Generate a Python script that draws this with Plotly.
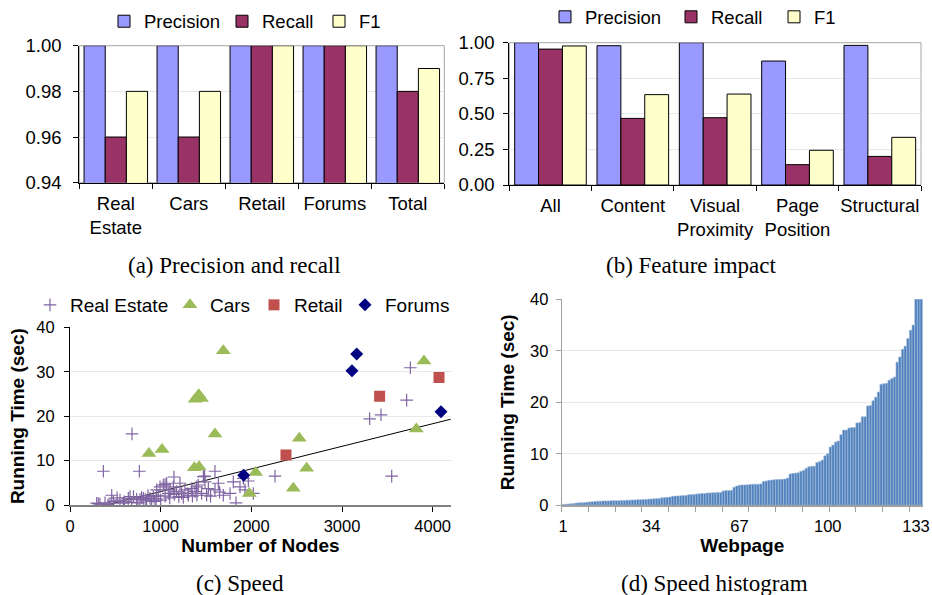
import plotly.graph_objects as go

W, H = 932, 595

# ---------------- Panel (a): Precision and recall ----------------
a_categories = ["Real<br>Estate", "Cars", "Retail", "Forums", "Total"]
a_precision = [1.00, 1.00, 1.00, 1.00, 1.00]
a_recall = [0.96, 0.96, 1.00, 1.00, 0.98]
a_f1 = [0.98, 0.98, 1.00, 1.00, 0.99]

# ---------------- Panel (b): Feature impact ----------------
b_categories = ["All", "Content", "Visual<br>Proximity", "Page<br>Position", "Structural"]
b_precision = [1.00, 0.979, 1.00, 0.871, 0.981]
b_recall = [0.955, 0.468, 0.473, 0.143, 0.201]
b_f1 = [0.977, 0.635, 0.639, 0.244, 0.335]

# ---------------- Panel (c): Speed ----------------
re_nodes = [368, 765, 684, 1147, 1485, 1599, 2261, 3305, 3430, 3754, 3713, 3548, 1831,
            294, 312, 386, 441, 460, 478, 551, 588, 643, 662, 680, 735, 772, 809, 845,
            882, 919, 937, 956, 974, 993, 1029, 1048, 1066, 1084, 1103, 1140, 1176,
            1213, 1231, 1268, 1305, 1342, 1379, 1397, 1415, 1452, 1471, 1489, 1507,
            1526, 1599, 1636, 1691, 1765, 1801, 1875, 1912, 1930, 1967, 2022,
            330, 420, 520, 600, 700, 750, 790, 830, 860, 900, 950, 1000, 1050, 1100,
            1150, 1200, 1250, 1300, 1350, 1400, 1550, 1650]
re_time = [7.6, 7.6, 16.0, 6.3, 6.5, 7.6, 6.5, 19.4, 20.3, 30.9, 23.6, 6.5, 0.5,
           0.4, 0.3, 0.5, 0.4, 2.2, 0.8, 1.1, 0.4, 1.5, 1.9, 0.6, 1.3, 1.2, 1.5, 0.9,
           1.5, 1.9, 0.8, 3.4, 2.2, 4.1, 4.5, 4.6, 4.9, 2.6, 3.4, 4.1, 3.0,
           4.9, 2.6, 3.4, 2.2, 3.7, 3.0, 4.1, 4.5, 2.6, 6.4, 5.2, 2.2,
           3.7, 3.4, 4.9, 2.2, 2.6, 5.2, 4.1, 6.0, 3.4, 5.4, 2.6,
           0.2, 0.1, 1.6, 0.7, 1.9, 0.5, 1.7, 1.2, 2.1, 0.9, 1.4, 1.1, 2.0, 1.6,
           2.4, 1.9, 1.7, 2.6, 2.0, 2.2, 2.0, 2.9]
cars_nodes = [1691, 1380, 1420, 1450, 1599, 871, 1015, 1371, 1423, 2048, 1978, 2463,
              2529, 2610, 3904, 3820]
cars_time = [34.7, 23.8, 24.8, 24.0, 16.0, 11.6, 12.5, 8.4, 8.6, 7.3, 2.6, 3.75,
             15.0, 8.25, 32.4, 17.1]
retail_nodes = [2382, 3415, 4070]
retail_time = [11.25, 24.5, 28.7]
forums_nodes = [1915, 3110, 3162, 4092]
forums_time = [6.7, 30.2, 34.0, 21.0]
trend_slope = 0.005086
trend_intercept = -2.05
c_xmax = 4200

# ---------------- Panel (d): Speed histogram ----------------
d_times = [0.15, 0.2, 0.25, 0.3, 0.35, 0.45, 0.5, 0.5, 0.55, 0.6,
           0.65, 0.7, 0.75, 0.8, 0.8, 0.85, 0.85, 0.85, 0.9, 0.9,
           0.9, 0.9, 0.95, 0.95, 1.0, 1.0, 1.05, 1.05, 1.1, 1.1,
           1.15, 1.15, 1.2, 1.2, 1.25, 1.3, 1.3, 1.45, 1.5, 1.55,
           1.6, 1.75, 1.8, 1.8, 1.85, 1.9, 1.9, 2.05, 2.1, 2.1,
           2.2, 2.25, 2.3, 2.3, 2.4, 2.4, 2.45, 2.45, 2.5, 2.5,
           2.8, 2.85, 2.85, 2.9, 3.5, 3.75, 3.9, 3.95, 3.95, 4.0,
           4.05, 4.1, 4.1, 4.1, 4.15, 4.6, 4.7, 4.85, 4.9, 4.95,
           5.0, 5.0, 5.05, 5.1, 5.3, 6.1, 6.2, 6.25, 6.3, 6.6,
           6.8, 7.2, 7.5, 7.6, 7.6, 8.3, 8.5, 8.8, 9.6, 10.0,
           11.3, 11.7, 12.3, 12.5, 13.7, 14.6, 14.6, 15.0, 15.1, 15.1,
           16.0, 16.1, 17.2, 17.2, 19.3, 19.4, 20.3, 21.0, 22.0, 23.5,
           23.6, 23.7, 24.3, 24.6, 24.9, 27.8, 28.8, 30.3, 30.9, 32.4,
           34.0, 35.0, 41.0, 45.0, 52.0]
d_pages = list(range(1, len(d_times) + 1))
d_ticks = [1, 34, 67, 100, 133]

# ---------------- styling ----------------
C_PREC = "#9999FF"
C_REC = "#993366"
C_F1 = "#FFFFCC"
SANS = "Liberation Sans, Arial, sans-serif"
SERIF = "Liberation Serif, Times New Roman, serif"
GRID = "#E8E8E8"


def dxp(x0, x1):
    return [x0 / W, x1 / W]


def dyp(top, bottom):
    return [1 - bottom / H, 1 - top / H]


fig = go.Figure()


def bar_trace(x, y, name, color, xa, ya, leg):
    return go.Bar(x=x, y=y, name=name, marker=dict(color=color, line=dict(color="#000000", width=1)),
                  xaxis=xa, yaxis=ya, legend=leg)


fig.add_trace(bar_trace(a_categories, a_precision, "Precision", C_PREC, "x", "y", "legend"))
fig.add_trace(bar_trace(a_categories, a_recall, "Recall", C_REC, "x", "y", "legend2"))
fig.add_trace(bar_trace(a_categories, a_f1, "F1", C_F1, "x", "y", "legend3"))

fig.add_trace(bar_trace(b_categories, b_precision, "Precision", C_PREC, "x2", "y2", "legend4"))
fig.add_trace(bar_trace(b_categories, b_recall, "Recall", C_REC, "x2", "y2", "legend5"))
fig.add_trace(bar_trace(b_categories, b_f1, "F1", C_F1, "x2", "y2", "legend6"))

# trend line (computed from slope / intercept)
t_x0 = -trend_intercept / trend_slope
fig.add_trace(go.Scatter(x=[t_x0, c_xmax], y=[trend_slope * t_x0 + trend_intercept, trend_slope * c_xmax + trend_intercept],
                         mode="lines", line=dict(color="black", width=1), showlegend=False,
                         xaxis="x3", yaxis="y3", hoverinfo="skip"))
fig.add_trace(go.Scatter(x=re_nodes, y=re_time, mode="markers", name="Real Estate",
                         marker=dict(symbol="cross-thin", size=9, line=dict(color="#8064A2", width=1.2), color="#8064A2"),
                         xaxis="x3", yaxis="y3", legend="legend7"))
fig.add_trace(go.Scatter(x=cars_nodes, y=cars_time, mode="markers", name="Cars",
                         marker=dict(symbol="triangle-up", size=13, color="#9BBB59"),
                         xaxis="x3", yaxis="y3", legend="legend8"))
fig.add_trace(go.Scatter(x=retail_nodes, y=retail_time, mode="markers", name="Retail",
                         marker=dict(symbol="square", size=11, color="#C0504D"),
                         xaxis="x3", yaxis="y3", legend="legend9"))
fig.add_trace(go.Scatter(x=forums_nodes, y=forums_time, mode="markers", name="Forums",
                         marker=dict(symbol="diamond", size=10, color="#000080"),
                         xaxis="x3", yaxis="y3", legend="legend10"))

fig.add_trace(go.Bar(x=d_pages, y=d_times, width=1.0, showlegend=False,
                     marker=dict(color="#4F81BD", line=dict(color="#A7BFDE", width=0.6)),
                     xaxis="x4", yaxis="y4"))

tick_a = dict(family=SANS, size=18.5, color="black")
tick_c = dict(family=SANS, size=16.5, color="black")
title_font = dict(family=SANS, size=19, color="black", weight="bold")

layout = dict(
    width=W, height=H, margin=dict(l=0, r=0, t=0, b=0, autoexpand=False),
    paper_bgcolor="white", plot_bgcolor="white",
    bargap=0.13, bargroupgap=0.0, barmode="group",
    font=dict(family=SANS, color="black"),
    xaxis=dict(domain=dxp(79.3, 444.3), anchor="y", type="category", tickson="boundaries",
               ticks="outside", ticklen=5, tickcolor="black", showline=True, linecolor="black",
               linewidth=1, tickfont=tick_a, showgrid=False, tickangle=0, automargin=False,
               ticklabelstandoff=4),
    yaxis=dict(domain=dyp(45.7, 182.7), anchor="x", range=[0.94, 1.0], dtick=0.02, tickformat=".2f",
               ticks="outside", ticklen=5, tickcolor="black", showline=True, linecolor="black",
               tickfont=tick_a, gridcolor=GRID, zeroline=False, ticklabelstandoff=8, automargin=False),
    xaxis2=dict(domain=dxp(509.3, 921), anchor="y2", type="category", tickson="boundaries",
                ticks="outside", ticklen=5, tickcolor="black", showline=True, linecolor="black",
                tickfont=tick_a, showgrid=False, tickangle=0, automargin=False, ticklabelstandoff=4),
    yaxis2=dict(domain=dyp(42.7, 185), anchor="x2", range=[0, 1.0], dtick=0.25, tickformat=".2f",
                ticks="outside", ticklen=5, tickcolor="black", showline=True, linecolor="black",
                tickfont=tick_a, gridcolor=GRID, zeroline=False, ticklabelstandoff=5, automargin=False),
    xaxis3=dict(domain=dxp(70, 450.8), anchor="y3", range=[0, c_xmax], tickvals=[0, 1000, 2000, 3000, 4000],
                ticks="outside", ticklen=5, tickcolor="black", showline=True, linecolor="#808080", linewidth=2,
                tickfont=tick_c, showgrid=False, zeroline=False, automargin=False,
                title=dict(text="Number of Nodes", font=title_font, standoff=4)),
    yaxis3=dict(domain=dyp(327.3, 505), anchor="x3", range=[0, 40], dtick=10,
                ticks="outside", ticklen=5, tickcolor="black", showline=True, linecolor="black",
                tickfont=tick_c, gridcolor=GRID, zeroline=False, ticklabelstandoff=6, automargin=False,
                title=dict(text="Running Time (sec)", font=title_font, standoff=6)),
    xaxis4=dict(domain=dxp(561.7, 922.7), anchor="y4", range=[0.5, len(d_times) + 0.5], tickvals=d_ticks,
                ticks="", showline=True, linecolor="#A0A0A0", linewidth=1.5,
                minor=dict(tick0=0.5, dtick=10, ticks="outside", ticklen=5, tickcolor="#A0A0A0", showgrid=False),
                tickfont=tick_c, showgrid=False, zeroline=False, automargin=False, ticklabelstandoff=5,
                title=dict(text="Webpage", font=title_font, standoff=4)),
    yaxis4=dict(domain=dyp(299.3, 505.3), anchor="x4", range=[0, 40], dtick=10,
                ticks="outside", ticklen=5, tickcolor="#A0A0A0", showline=True, linecolor="#A0A0A0",
                tickfont=tick_c, gridcolor=GRID, zeroline=False, ticklabelstandoff=4, automargin=False,
                title=dict(text="Running Time (sec)", font=title_font, standoff=10)),
    shapes=[
        dict(type="rect", xref="x domain", yref="y domain", x0=0, x1=1, y0=0, y1=1,
             line=dict(color="#A6A6A6", width=1), layer="below"),
        dict(type="rect", xref="x2 domain", yref="y2 domain", x0=0, x1=1, y0=0, y1=1,
             line=dict(color="#A6A6A6", width=1), layer="below"),
    ],
)

# individual legends (one per entry) positioned like the reference
leg_a = dict(family=SANS, size=18.5, color="black")
leg_c = dict(family=SANS, size=19, color="black")
leg_specs = [
    ("legend", 104, 21.7, leg_a), ("legend2", 222, 21.7, leg_a), ("legend3", 319, 21.7, leg_a),
    ("legend4", 545, 17.3, leg_a), ("legend5", 671, 17.3, leg_a), ("legend6", 774, 17.3, leg_a),
    ("legend7", 30, 305, leg_c), ("legend8", 170, 305, leg_c), ("legend9", 254, 305, leg_c),
    ("legend10", 345, 305, leg_c),
]
for key, lx, ly, lf in leg_specs:
    layout[key] = dict(x=lx / W, y=1 - ly / H, xanchor="left", yanchor="middle", xref="paper", yref="paper",
                       bgcolor="rgba(0,0,0,0)", borderwidth=0, font=lf, itemwidth=30,
                       orientation="h")

captions = [("(a) Precision and recall", 234, 265), ("(b) Feature impact", 691, 265),
            ("(c) Speed", 240, 583), ("(d) Speed histogram", 714, 583)]
layout["annotations"] = [dict(text=t, x=cx / W, y=1 - cy / H, xref="paper", yref="paper",
                              showarrow=False, xanchor="center", yanchor="middle",
                              font=dict(family=SERIF, size=23, color="black")) for t, cx, cy in captions]

fig.update_layout(**layout)
fig.write_html("out.html", config={"displayModeBar": False},
               post_script="document.body.style.margin='0';document.body.style.overflow='hidden';")
